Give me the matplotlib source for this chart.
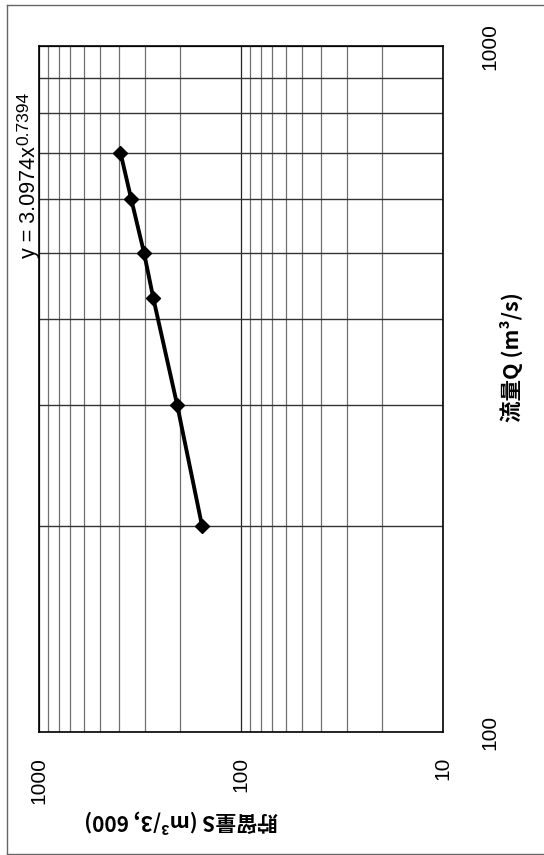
import matplotlib
matplotlib.use("Agg")
import matplotlib.pyplot as plt
from matplotlib.lines import Line2D
from matplotlib.ticker import LogLocator, NullFormatter

plt.rcParams['font.family'] = ['Liberation Sans', 'DejaVu Sans']

# Discharge Q (m3/s) and storage S (m3/3,600)
discharge = [200, 300, 430, 500, 600, 700]
storage = [156, 207, 272, 302, 350, 395]

s_ticks = [1000, 100, 10]
s_tick_labels = ['1000', '100', '10']
q_ticks = [100, 1000]
q_tick_labels = ['100', '1000']

fit_base = 'y = 3.0974x'
fit_exponent = '0.7394'
q_label = '流量Q (m³/s)'
s_label = '貯留量S (m³/3, 600)'

W, H = 544, 855
fig = plt.figure(figsize=(W / 100, H / 100), dpi=100)

left, right, top, bottom = 39, 443, 46.5, 732
ax = fig.add_axes([left / W, 1 - bottom / H, (right - left) / W, (bottom - top) / H])

# Page is turned sideways: storage runs right-to-left, discharge bottom-to-top
ax.set_xscale('log')
ax.set_yscale('log')
ax.set_xlim(1000, 10)
ax.set_ylim(100, 1000)

ax.xaxis.set_minor_locator(LogLocator(base=10, subs=range(2, 10)))
ax.yaxis.set_minor_locator(LogLocator(base=10, subs=range(2, 10)))
ax.xaxis.set_minor_formatter(NullFormatter())
ax.yaxis.set_minor_formatter(NullFormatter())

ax.grid(True, which='major', axis='both', color='#222222', lw=0.9)
ax.grid(True, which='minor', axis='x', color='#707070', lw=0.9)
ax.grid(True, which='minor', axis='y', color='#333333', lw=1.0)

ax.plot(storage, discharge, color='black', lw=2.8, marker='D', ms=7,
        markerfacecolor='black', markeredgecolor='black', zorder=5)

ax.set_xticks(s_ticks)
ax.set_xticklabels(s_tick_labels, rotation=90, fontsize=15)
ax.tick_params(axis='x', which='both', length=0, pad=18)

ax.yaxis.tick_right()
ax.set_yticks(q_ticks)
ax.set_yticklabels(q_tick_labels, rotation=90, fontsize=15, va='center')
ax.tick_params(axis='y', which='both', length=0, pad=27)

for sp in ax.spines.values():
    sp.set_color('black')
    sp.set_linewidth(1.2)

cjk = ['Noto Sans CJK JP', 'DejaVu Sans']
fig.text(511 / W, 1 - 357 / H, q_label, rotation=90, ha='center', va='center',
         fontsize=15.5, family=cjk, weight='bold')
fig.text(181.5 / W, 1 - 822 / H, s_label, rotation=180, ha='center', va='center',
         fontsize=15, family=cjk, weight='bold')

# Power-law fit label, written sideways with a raised exponent
base_txt = fig.text(35.5 / W, 1 - 258 / H, fit_base, rotation=90,
                    rotation_mode='anchor', ha='left', va='baseline', fontsize=15.5)
fig.canvas.draw()
bb = base_txt.get_window_extent(fig.canvas.get_renderer())
fig.text(28 / W, (bb.y1 + 1) / H, fit_exponent, rotation=90,
         rotation_mode='anchor', ha='left', va='baseline', fontsize=12.5)

# Outer page frame
frame_kw = dict(transform=fig.transFigure, color='#666666', lw=1.0)
fig.add_artist(Line2D([7 / W, 7 / W], [1 - 5 / H, 1 - 854 / H], **frame_kw))
fig.add_artist(Line2D([7 / W, 1], [1 - 5 / H, 1 - 5 / H], **frame_kw))
fig.add_artist(Line2D([7 / W, 1], [1 - 854 / H, 1 - 854 / H], **frame_kw))

fig.savefig('out.png', dpi=100, facecolor='white')
